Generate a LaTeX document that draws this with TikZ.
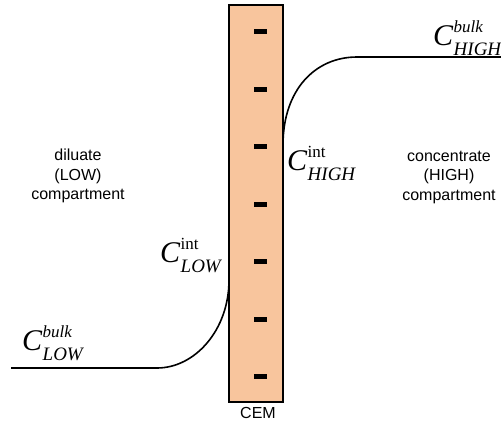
\documentclass[tikz,border=0pt]{standalone}
\usepackage{fontspec}
\setmainfont{Liberation Serif}
\newfontfamily\arialf{Liberation Sans}
\definecolor{cemfill}{RGB}{248,197,157}
\newcommand\clab[2]{{\fontsize{30}{30}\selectfont\itshape C}\kern0.5pt\rlap{\raisebox{12.5pt}{\fontsize{17}{17}\selectfont #1}}\raisebox{-10pt}{\fontsize{19}{19}\selectfont\itshape #2}}
\begin{document}
\begin{tikzpicture}[x=1pt,y=-1pt,
  lbl/.style={inner sep=0pt,anchor=base west},
  sans/.style={font=\arialf\fontsize{16}{19.5}\selectfont,align=center,inner sep=0pt},
  curve/.style={line width=1.6pt}]
\useasboundingbox (0,0) rectangle (501,426);
\node[draw=black,line width=2pt,fill=cemfill,minimum width=54pt,minimum height=397pt,inner sep=0pt] (cem) at (256,203.5) {};
\foreach \k in {0,...,6}{
  \fill (254.3,{29.3+57.5*\k}) rectangle (266.7,{34+57.5*\k});
}
\coordinate (hi1) at (283,145);
\coordinate (hi2) at (357,57);
\coordinate (hi3) at (501,57);
\coordinate (lo1) at (229,280);
\coordinate (lo2) at (157,368);
\coordinate (lo3) at (11,368);
\draw[curve] (hi1) .. controls (283,90) and (315,57) .. (hi2) -- (hi3);
\draw[curve] (lo1) .. controls (229,330) and (195,368) .. (lo2) -- (lo3);
\node[lbl] (cbh) at (433,45) {\clab{\itshape bulk}{HIGH}};
\node[lbl] (cih) at (287,170) {\clab{\upshape int}{HIGH}};
\node[lbl] (cil) at (160,262) {\clab{\upshape int}{LOW}};
\node[lbl] (cbl) at (22,350) {\clab{\itshape bulk}{LOW}};
\node[sans] (dil) at (78,176) {diluate\\(LOW)\\compartment};
\node[sans] (con) at (449,177) {concentrate\\(HIGH)\\compartment};
\node[sans] (cemt) at (258,413) {CEM};
\end{tikzpicture}
\end{document}
